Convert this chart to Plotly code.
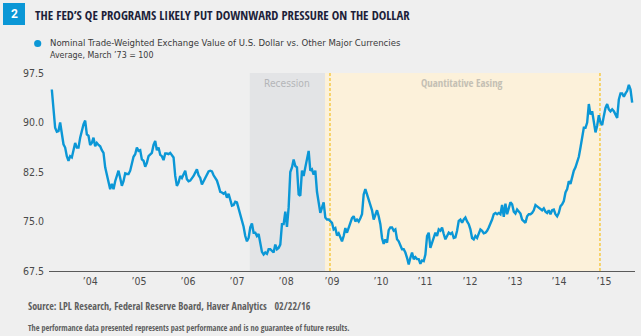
import pandas as pd
import plotly.graph_objects as go

# ---------------- data ----------------
series_name = "Nominal Trade-Weighted Exchange Value of U.S. Dollar vs. Other Major Currencies"
series_start = "2003-09-18"
series_end = "2016-02-22"

dollar_index = [
    95.0, 91.5, 89.2, 88.6, 88.7, 90.0, 88.2, 86.7, 86.2, 84.9, 84.2, 84.9, 84.7, 85.9,
    86.9, 86.2, 86.2, 87.7, 88.8, 89.7, 90.3, 88.2, 88.0, 86.6, 86.9, 87.7, 86.4, 86.9,
    86.6, 86.4, 85.8, 85.4, 83.2, 81.9, 80.6, 79.9, 80.7, 79.9, 81.1, 81.9, 82.7, 81.6,
    80.4, 81.1, 82.3, 82.2, 82.2, 82.7, 83.9, 84.8, 85.2, 86.2, 85.7, 85.8, 84.4, 84.2,
    83.3, 83.9, 84.9, 85.2, 85.4, 86.6, 87.2, 85.8, 86.2, 85.1, 84.9, 84.3, 85.3, 85.3,
    85.2, 85.4, 85.1, 84.7, 81.9, 80.4, 80.9, 81.9, 81.6, 82.1, 82.7, 81.4, 81.1, 81.2,
    81.5, 81.9, 82.4, 82.9, 82.0, 81.6, 80.6, 81.1, 81.6, 82.3, 82.6, 82.7, 82.6, 82.0,
    81.6, 81.2, 80.4, 79.5, 79.4, 79.2, 79.4, 78.6, 79.2, 78.4, 77.4, 77.5, 78.0, 77.9,
    77.0, 75.8, 74.8, 74.2,
    72.8, 72.0, 72.5, 74.1, 74.7, 73.3, 73.3, 72.8, 73.1, 71.5, 70.4, 70.0, 70.3, 70.1,
    70.8, 70.8, 70.5, 70.3, 71.5, 70.8, 71.0, 71.5, 74.6, 74.6, 76.5, 74.2, 77.1, 82.5,
    83.2, 84.4, 83.4, 83.2, 79.1, 78.9, 82.7, 81.9, 83.2, 84.4, 85.7, 82.7, 82.9, 82.1,
    82.7, 79.5, 77.6, 76.3, 77.1, 77.9, 75.6, 75.3, 75.3, 75.0, 74.8, 73.8, 74.0, 72.9,
    73.2, 72.6, 72.0, 72.8,
    74.0, 73.3, 74.0, 75.0, 75.5, 75.8, 75.0, 75.3, 75.0, 75.5, 76.1, 79.1, 79.9, 79.1,
    78.4, 77.6, 76.7, 75.3, 76.1, 76.7, 75.8, 74.6, 72.5, 71.6, 72.3, 71.8, 73.7, 74.1,
    74.1, 73.6, 73.8, 72.3, 72.0, 71.5, 70.8, 70.8, 70.3, 69.5, 68.5, 69.5, 70.3, 69.3,
    69.6, 69.3, 69.3, 68.6, 69.1, 69.0, 70.0, 72.8, 73.3, 71.0, 71.8, 72.5, 73.3, 72.8,
    73.8, 73.6, 74.1, 73.1,
    72.3, 72.8, 73.3, 73.1, 73.3, 72.5, 72.6, 73.6, 75.1, 75.3, 74.8, 75.3, 75.6, 75.0,
    74.6, 73.8, 72.5, 72.3, 72.8, 72.5, 73.3, 73.8, 73.6, 73.2, 73.3, 73.6, 74.1, 74.6,
    75.3, 76.1, 76.3, 76.1, 76.3, 76.1, 77.5, 75.7, 77.7, 76.1, 77.1, 77.9, 77.6, 76.5,
    76.2, 76.8, 76.5, 76.2, 75.3, 75.1, 74.8, 75.8, 76.1, 76.1, 76.3, 76.7, 77.5, 77.3,
    77.1, 76.8, 76.7, 77.0,
    76.5, 76.3, 76.7, 76.1, 76.7, 76.8, 76.1, 75.8, 76.3, 77.3, 77.6, 78.1, 79.4, 79.9,
    81.1, 80.7, 81.9, 82.7, 83.2, 83.9, 84.8, 86.2, 87.9, 89.2, 89.2, 90.0, 92.8, 91.2,
    91.7, 90.2, 88.5, 89.5, 91.1, 90.0, 89.6, 91.0, 92.2, 92.8, 92.0, 91.7, 92.0, 91.7,
    91.2, 90.7, 93.5, 94.4, 94.4, 93.9, 94.4, 94.8, 95.7, 95.0, 93.0,
]

y_tick_values = [67.5, 75.0, 82.5, 90.0, 97.5]
y_tick_labels = ["67.5", "75.0", "82.5", "90.0", "97.5"]
x_tick_dates = ["2004-07-14", "2005-08-01", "2006-08-19", "2007-09-06", "2008-09-24",
                "2009-09-18", "2010-10-06", "2011-09-15", "2012-09-01", "2013-08-20",
                "2014-07-30", "2015-07-16"]
x_tick_labels = ["\u201904", "\u201905", "\u201906", "\u201907", "\u201908", "\u201909",
                 "\u201910", "\u201911", "\u201912", "\u201913", "\u201914", "\u201915"]
x_range = ["2003-08-27", "2016-03-15"]

recession_period = ["2007-12-15", "2009-07-25"]
qe_period = ["2009-07-25", "2015-06-15"]
qe_lines = ["2009-09-02", "2015-06-15"]

title_text = "THE FED\u2019S QE PROGRAMS LIKELY PUT DOWNWARD PRESSURE ON THE DOLLAR"
subtitle_text = "Average, March \u201973 = 100"
source_text = "Source: LPL Research, Federal Reserve Board, Haver Analytics\u00a0\u00a0\u00a002/22/16"
disclaimer_text = "The performance data presented represents past performance and is no guarantee of future results."

# ---------------- styling ----------------
BLUE = "#0b97d6"
BG = "#efefef"
COND = "DejaVu Sans Condensed, Roboto, sans-serif"
COND_BOLD = "Open Sans Condensed, DejaVu Sans Condensed, sans-serif"
W, H = 641, 336
ML, MR, MT, MB = 49, 6, 73, 65
PW, PH = W - ML - MR, H - MT - MB


def px(x):
    return (x - ML) / PW


def py(y):
    return (H - MB - y) / PH


dates = pd.date_range(series_start, series_end, periods=len(dollar_index))

fig = go.Figure()
fig.add_trace(go.Scatter(
    x=dates, y=dollar_index, mode="lines", name=series_name,
    line=dict(color=BLUE, width=2.4), showlegend=False,
    hovertemplate="%{x|%b %d, %Y}: %{y:.1f}<extra></extra>",
))

shapes = [
    dict(type="rect", xref="x", yref="paper", x0=recession_period[0], x1=recession_period[1],
         y0=0, y1=1, fillcolor="#e3e4e6", line=dict(width=0), layer="below"),
    dict(type="rect", xref="x", yref="paper", x0=qe_period[0], x1=qe_period[1],
         y0=0, y1=1, fillcolor="#fcf1da", line=dict(width=0), layer="below"),
]
for d in qe_lines:
    shapes.append(dict(type="line", xref="x", yref="paper", x0=d, x1=d, y0=0, y1=1,
                       line=dict(color="#f6c945", width=1.5, dash="3px,2px"), layer="below"))
shapes.append(dict(type="rect", xref="paper", yref="paper", x0=px(3), x1=px(25),
                   y0=py(25), y1=py(3), fillcolor=BLUE, line=dict(width=0)))
shapes.append(dict(type="circle", xref="paper", yref="paper", xsizemode="pixel", ysizemode="pixel",
                   xanchor=px(37.7), yanchor=py(43.5), x0=-3.6, x1=3.6, y0=-3.6, y1=3.6,
                   fillcolor=BLUE, line=dict(width=0)))

mid = lambda a, b: pd.Timestamp(a) + (pd.Timestamp(b) - pd.Timestamp(a)) / 2

annotations = [
    dict(text="<b>2</b>", x=px(14), y=py(14), xref="paper", yref="paper", showarrow=False,
         font=dict(family="Roboto, sans-serif", size=12, color="white"), xanchor="center", yanchor="middle"),
    dict(text="<b>" + title_text + "</b>", x=px(32.5), y=py(15), xref="paper", yref="paper",
         showarrow=False, xanchor="left", yanchor="middle",
         font=dict(family=COND_BOLD, size=12.7, color="#1d1f3a")),
    dict(text=series_name, x=px(48), y=py(43), xref="paper", yref="paper", showarrow=False,
         xanchor="left", yanchor="middle", font=dict(family=COND, size=9.5, color="#3a3a3a")),
    dict(text=subtitle_text, x=px(48), y=py(55), xref="paper", yref="paper", showarrow=False,
         xanchor="left", yanchor="middle", font=dict(family=COND, size=8.8, color="#3a3a3a")),
    dict(text="Recession", x=mid(*recession_period), y=py(83), xref="x", yref="paper",
         showarrow=False, xanchor="center", yanchor="middle",
         font=dict(family=COND, size=10.2, color="#b4b5b8")),
    dict(text="<b>Quantitative Easing</b>", x=mid(*qe_period), y=py(83), xref="x", yref="paper",
         showarrow=False, xanchor="center", yanchor="middle",
         font=dict(family=COND_BOLD, size=10.7, color="#c4c0b4")),
    dict(text=source_text, x=px(26), y=py(306), xref="paper", yref="paper", showarrow=False,
         xanchor="left", yanchor="middle",
         font=dict(family=COND_BOLD, size=10.0, color="#5e5e5e")),
    dict(text=disclaimer_text, x=px(26), y=py(327), xref="paper", yref="paper", showarrow=False,
         xanchor="left", yanchor="middle",
         font=dict(family=COND_BOLD, size=8.2, color="#5e5e5e")),
]

fig.update_layout(
    width=W, height=H,
    margin=dict(l=ML, r=MR, t=MT, b=MB, pad=0),
    paper_bgcolor=BG, plot_bgcolor=BG,
    shapes=shapes, annotations=annotations,
    showlegend=False,
    xaxis=dict(type="date", range=x_range, tickvals=x_tick_dates, ticktext=x_tick_labels,
               showgrid=False, zeroline=False, showline=True, linecolor="#5a5a5a", linewidth=1.2,
               ticks="", tickfont=dict(family=COND, size=10.5, color="#4a4a4a")),
    yaxis=dict(range=[67.5, 97.5], tickvals=y_tick_values, ticktext=y_tick_labels,
               showgrid=False, zeroline=False, showline=False, ticks="", ticklabelstandoff=4,
               tickfont=dict(family=COND, size=10.5, color="#4a4a4a")),
)

fig.write_html("out.html")
